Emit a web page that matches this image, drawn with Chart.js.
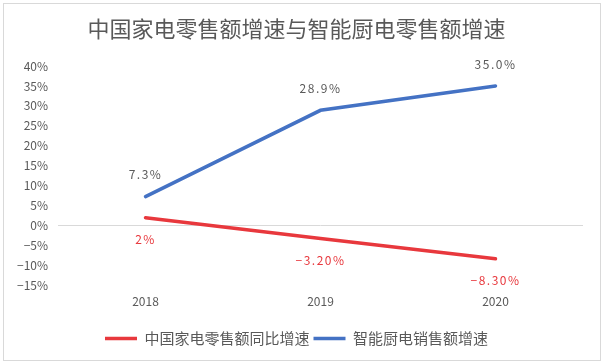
<!DOCTYPE html>
<html>
<head>
<meta charset="utf-8">
<script src="https://cdn.jsdelivr.net/npm/chart.js@4"></script>
<style>
  html, body { margin:0; padding:0; background:#fff; }
  #box { position:relative; width:604px; height:363px; }
  #frame { position:absolute; left:3px; top:3px; width:596px; height:356px; border:1px solid #d9d9d9; pointer-events:none; }
</style>
</head>
<body>
<div id="box">
  <canvas id="c"></canvas>
  <div id="frame"></div>
</div>
<script>
// data
const years = ['2018', '2019', '2020'];
const homeApplianceGrowth = [2, -3.2, -8.3];      // 中国家电零售额同比增速
const kitchenGrowth = [7.3, 28.9, 35.0];          // 智能厨电销售额增速
const homeLabels = ['2%', '-3.20%', '-8.30%'];
const kitchenLabels = ['7.3%', '28.9%', '35.0%'];
const yMin = -15, yMax = 40, yStep = 5;

const RED = '#e8383d', BLUE = '#4472c4', GREY = '#595959';
const FONT = "'Noto Sans CJK SC', 'Noto Sans', sans-serif";

const minus = s => String(s).replace('-', '\u2212');

// value labels: blue above, red below
const valueLabels = {
  id: 'valueLabels',
  afterDatasetsDraw(chart){
    const ctx = chart.ctx;
    ctx.save();
    ctx.font = '12px ' + FONT;
    ctx.textAlign = 'center';
    ctx.textBaseline = 'middle';
    ctx.letterSpacing = '1.5px';
    chart.data.datasets.forEach((ds, i) => {
      const meta = chart.getDatasetMeta(i);
      meta.data.forEach((pt, j) => {
        const txt = minus(ds.valueText[j]);
        if(ds.labelPos === 'above'){ ctx.fillStyle = GREY; ctx.fillText(txt, pt.x, pt.y - 22); }
        else { ctx.fillStyle = RED; ctx.fillText(txt, pt.x, pt.y + 22); }
      });
    });
    ctx.restore();
  }
};

Chart.defaults.font.family = FONT;
Chart.defaults.color = GREY;

new Chart(document.getElementById('c'), {
  type: 'line',
  data: {
    labels: years,
    datasets: [
      { label: '中国家电零售额同比增速', data: homeApplianceGrowth, valueText: homeLabels, labelPos: 'below',
        borderColor: RED, backgroundColor: RED, borderWidth: 3.5, pointRadius: 0, tension: 0, borderCapStyle: 'round' },
      { label: '智能厨电销售额增速', data: kitchenGrowth, valueText: kitchenLabels, labelPos: 'above',
        borderColor: BLUE, backgroundColor: BLUE, borderWidth: 3.5, pointRadius: 0, tension: 0, borderCapStyle: 'round' }
    ]
  },
  options: {
    responsive: true,
    maintainAspectRatio: false,
    animation: false,
    layout: { padding: { left: 10, right: 21, top: 0, bottom: 7 } },
    plugins: {
      title: { display: true, text: '中国家电零售额增速与智能厨电零售额增速', color: GREY,
        font: { size: 22, weight: 'normal' }, padding: { top: 15, bottom: 24.6 } },
      legend: { position: 'bottom',
        labels: { usePointStyle: true, pointStyle: 'line', pointStyleWidth: 32, padding: 4,
          color: GREY, font: { size: 15 } } },
      tooltip: { enabled: false }
    },
    scales: {
      x: {
        offset: true,
        grid: { display: false, drawTicks: false },
        border: { display: false },
        ticks: { padding: 9, font: { size: 12 }, color: GREY },
        afterFit(s){ s.height += 9; }
      },
      y: {
        min: yMin, max: yMax,
        grid: { drawTicks: false, color: ctx => ctx.tick && ctx.tick.value === 0 ? '#d9d9d9' : 'transparent' },
        border: { display: false },
        ticks: { stepSize: yStep, padding: 10, font: { size: 12 }, color: GREY,
          callback: v => minus(v + '%') },
        afterFit(s){ s.width = 48; }
      }
    }
  },
  plugins: [valueLabels]
});
</script>
</body>
</html>
